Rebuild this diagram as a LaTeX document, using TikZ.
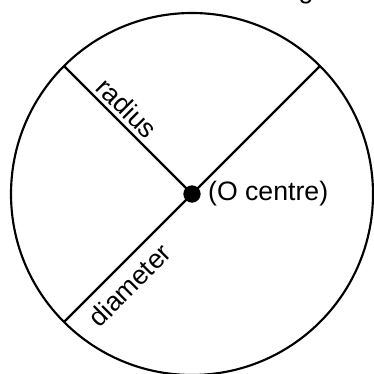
\documentclass[tikz,border=0pt]{standalone}
\usepackage{fontspec}
\setmainfont{Liberation Sans}
\usetikzlibrary{positioning,calc}

\begin{document}
\begin{tikzpicture}[x=0.75pt, y=0.75pt, line width=1.6pt,
    font=\fontsize{20}{24}\selectfont,
    label/.style={inner sep=3pt}]
        \useasboundingbox (0,0) rectangle (374,374);
        \coordinate (C) at (192,180);
        \draw (C) circle (181);
        \node[circle, fill=black, inner sep=0pt, minimum size=13pt] (O) at (C) {};
        \coordinate (R) at ($(C)+(135:181)$);
        \coordinate (D1) at ($(C)+(225:181)$);
        \coordinate (D2) at ($(C)+(45:181)$);

        \draw (R) -- (O.center) node[label, pos=0.41, sloped, above] {radius};
        \draw (D1) -- (D2) node[label, inner sep=7pt, pos=0.2, sloped, below] {diameter};
        \node[right=2pt of O, inner sep=2pt] (cen) {(O centre)};
        \node[anchor=base] (top) at (306,375) {g};
      \end{tikzpicture}
\end{document}
